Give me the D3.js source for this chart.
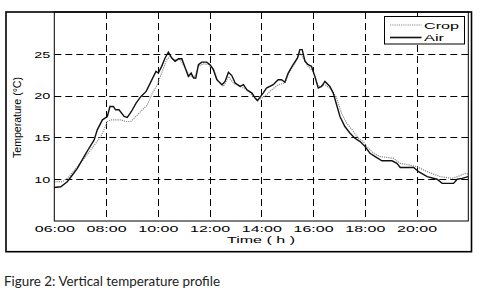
<!DOCTYPE html>
<html><head><meta charset="utf-8">
<script src="https://cdn.jsdelivr.net/npm/d3@7"></script>
<style>
html,body{margin:0;padding:0;background:#fff;}
svg{display:block;}
</style></head>
<body>
<script>
// ---- data ----
const xTickHours = [6, 8, 10, 12, 14, 16, 18, 20];
const xTickLabels = ["06:00", "08:00", "10:00", "12:00", "14:00", "16:00", "18:00", "20:00"];
const yTicks = [10, 15, 20, 25];

const airTime = [6.0,6.25,6.5,6.7,6.89,7.15,7.34,7.54,7.66,7.86,8.05,8.15,8.28,8.37,8.5,8.7,8.82,8.98,9.16,9.35,9.55,9.74,9.93,10.02,10.15,10.28,10.41,10.54,10.67,10.8,10.93,11.06,11.18,11.29,11.38,11.47,11.57,11.7,11.89,12.02,12.15,12.28,12.48,12.6,12.73,12.86,12.99,13.18,13.31,13.44,13.64,13.76,13.85,14.07,14.2,14.46,14.65,14.78,14.91,15.04,15.23,15.4,15.49,15.58,15.69,15.81,15.94,16.07,16.2,16.33,16.46,16.65,16.78,16.91,17.04,17.23,17.43,17.62,17.82,18.01,18.2,18.4,18.66,19.05,19.24,19.37,19.89,20.08,20.41,20.79,20.99,21.43,21.57,21.76,22.0];
const airTemp = [9.0,9.1,9.7,10.5,11.3,12.7,13.7,14.7,15.9,17.1,17.5,18.7,18.7,18.3,18.3,17.5,17.4,18.1,19.1,19.9,20.5,21.7,22.9,22.7,23.5,24.5,25.2,24.5,24.1,24.4,24.4,23.3,22.3,22.7,22.1,22.1,23.7,24.0,24.0,23.7,23.1,21.9,21.3,21.7,22.8,22.4,21.5,21.1,21.3,20.7,20.3,19.7,19.4,20.3,20.9,21.3,21.9,21.9,21.6,22.7,23.7,24.5,25.5,25.5,24.1,23.7,23.5,22.3,20.9,21.1,21.7,21.1,20.3,18.9,17.5,16.3,15.5,14.9,14.5,13.9,13.1,12.7,12.2,12.2,11.9,11.4,11.4,10.9,10.3,10.0,9.5,9.5,10.0,10.1,10.3];

const cropTime = [6.0,6.32,6.57,6.89,7.21,7.41,7.6,7.8,7.92,8.05,8.18,8.57,8.76,8.96,9.15,9.34,9.6,9.79,9.98,10.05,10.22,10.35,10.48,10.6,10.86,11.06,11.25,11.44,11.57,11.76,11.96,12.15,12.34,12.54,12.73,12.92,13.18,13.44,13.7,13.89,14.14,14.4,14.65,14.91,15.1,15.3,15.49,15.62,15.81,16.0,16.2,16.46,16.72,16.91,17.1,17.3,17.56,17.75,17.94,18.08,18.34,18.6,19.11,19.37,20.02,20.41,20.92,21.37,21.57,21.89,22.0];
const cropTemp = [9.7,9.7,10.3,11.5,12.7,13.5,14.3,15.1,15.9,16.9,17.1,17.1,16.9,16.9,17.5,18.1,18.9,20.3,21.3,21.9,23.3,24.3,24.7,24.3,24.3,23.3,22.3,22.3,23.5,23.8,23.7,23.1,21.7,21.1,22.3,21.5,21.1,20.7,19.9,19.5,19.9,20.7,21.3,21.5,22.9,23.9,25.1,24.5,23.5,22.9,21.1,21.3,20.7,19.7,17.9,16.7,15.7,14.9,14.5,13.9,13.1,12.7,12.5,11.9,11.5,10.9,10.3,10.1,10.3,10.7,10.6];

const seriesNames = ["Crop", "Air"];
const xLabel = "Time ( h )";
const yLabel = "Temperature (°C)";
const caption = "Figure 2: Vertical temperature profile";

// ---- drawing ----
(function () {
const W = 481, H = 298;
const svg = d3.select("body").append("svg").attr("width", W).attr("height", H);

const pL = 54.3, pR = 468.3, pT = 12, pB = 221;
const x = d3.scaleLinear().domain([6, 22]).range([pL, pR]);
const y = d3.scaleLinear().domain([5, 30]).range([pB, pT]);

// outer frame
svg.append("rect").attr("x", 6).attr("y", 12).attr("width", 465.5).attr("height", 239.7)
  .attr("fill", "none").attr("stroke", "#000").attr("stroke-width", 1.6);

// grid
const grid = svg.append("g").attr("stroke", "#000").attr("stroke-width", 1).attr("stroke-dasharray", "7,4");
grid.selectAll("line.gx").data(xTickHours.slice(1)).join("line").attr("class", "gx")
  .attr("x1", d => Math.round(x(d)) + 0.5).attr("x2", d => Math.round(x(d)) + 0.5)
  .attr("y1", pT).attr("y2", pB);
grid.selectAll("line.gy").data(yTicks).join("line").attr("class", "gy")
  .attr("y1", d => Math.round(y(d)) + 0.5).attr("y2", d => Math.round(y(d)) + 0.5)
  .attr("x1", pL).attr("x2", pR);

// lines
const crop = cropTime.map((t, i) => [t, cropTemp[i]]);
const air = airTime.map((t, i) => [t, airTemp[i]]);
const line = d3.line().x(d => x(d[0])).y(d => y(d[1]));
svg.append("path").datum(crop).attr("d", line).attr("fill", "none")
  .attr("stroke", "#8a8a8a").attr("stroke-width", 1.2).attr("stroke-dasharray", "1.2,1");
svg.append("path").datum(air).attr("d", line).attr("fill", "none")
  .attr("stroke", "#111").attr("stroke-width", 1.4);

// plot box
svg.append("rect").attr("x", pL).attr("y", pT).attr("width", pR - pL).attr("height", pB - pT)
  .attr("fill", "none").attr("stroke", "#000").attr("stroke-width", 1);

// axes
const xAxis = d3.axisBottom(x).tickValues(xTickHours).tickFormat((d, i) => xTickLabels[i]).tickSize(0).tickPadding(0);
const gx = svg.append("g").attr("transform", `translate(0,${pB})`).call(xAxis);
gx.select(".domain").remove();
gx.selectAll("text").attr("dy", null).attr("y", 11).attr("font-family", "Liberation Sans, Arial, sans-serif")
  .attr("font-size", 9).attr("fill", "#000").attr("textLength", 40).attr("lengthAdjust", "spacingAndGlyphs");

const yAxis = d3.axisLeft(y).tickValues(yTicks).tickSize(0).tickPadding(0);
const gy = svg.append("g").attr("transform", `translate(${pL},0)`).call(yAxis);
gy.select(".domain").remove();
gy.selectAll("text").attr("x", -4).attr("dy", "3.2").attr("font-family", "Liberation Sans, Arial, sans-serif")
  .attr("font-size", 9).attr("fill", "#000").attr("textLength", 16).attr("lengthAdjust", "spacingAndGlyphs");

// axis labels
svg.append("text").attr("x", 261).attr("y", 242.5).attr("text-anchor", "middle")
  .attr("font-family", "Liberation Sans, Arial, sans-serif").attr("font-size", 9)
  .attr("textLength", 68).attr("lengthAdjust", "spacingAndGlyphs").text(xLabel);
svg.append("text").attr("transform", "translate(21,117.5) rotate(-90)").attr("text-anchor", "middle")
  .attr("font-family", "Liberation Sans, Arial, sans-serif").attr("font-size", 10)
  .attr("textLength", 81).attr("lengthAdjust", "spacingAndGlyphs").text(yLabel);

// legend
const lg = svg.append("g");
lg.append("rect").attr("x", 384.5).attr("y", 16.5).attr("width", 80).attr("height", 27.5)
  .attr("fill", "#fff").attr("stroke", "#000").attr("stroke-width", 1);
const legendStyles = [
  {stroke: "#8a8a8a", dash: "1.2,1", w: 1.2},
  {stroke: "#111", dash: null, w: 1.6}
];
seriesNames.forEach((n, i) => {
  const yy = 25 + i * 12.5;
  lg.append("line").attr("x1", 390).attr("x2", 421.5).attr("y1", yy).attr("y2", yy)
    .attr("stroke", legendStyles[i].stroke).attr("stroke-width", legendStyles[i].w)
    .attr("stroke-dasharray", legendStyles[i].dash);
  lg.append("text").attr("x", 424).attr("y", yy + 3.5).attr("font-family", "Liberation Sans, Arial, sans-serif")
    .attr("font-size", 9.5).attr("textLength", i === 0 ? 35 : 20).attr("lengthAdjust", "spacingAndGlyphs").text(n);
});

// caption
svg.append("text").attr("x", 4).attr("y", 286).attr("font-family", "Lato, 'Noto Sans', sans-serif")
  .attr("font-size", 13.5).attr("fill", "#222").attr("textLength", 216).attr("lengthAdjust", "spacingAndGlyphs")
  .text(caption);
})();
</script>
</body></html>
